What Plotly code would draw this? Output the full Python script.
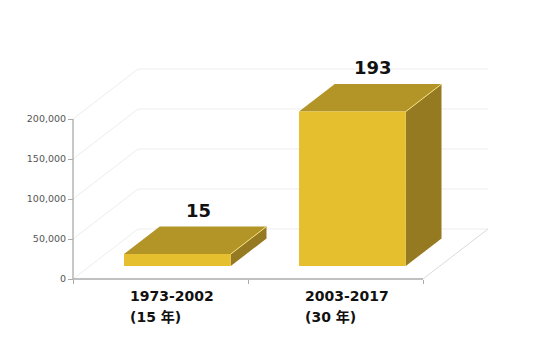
import plotly.graph_objects as go

# ---- data ----
categories = ["1973-2002", "2003-2017"]
period_labels = ["(15 年)", "(30 年)"]
values = [15000, 193000]
value_labels = ["15", "193"]
y_ticks = [0, 50000, 100000, 150000, 200000]
y_tick_text = ["0", "50,000", "100,000", "150,000", "200,000"]

# ---- geometry / style ----
W, H = 544, 354
X0PX, Y0PX = 73, 279
PX_PER_X = 175.0
UNITS_PER_PX = 1250.0
x_range = [-X0PX / PX_PER_X, (W - X0PX) / PX_PER_X]
y_range = [-(H - Y0PX) * UNITS_PER_PX, Y0PX * UNITS_PER_PX]

DX, DY = 0.3714, 62500.0      # full depth of the floor
F0, F1 = 0.26, 0.81           # bar front / back depth fraction
BW = 0.61                     # bar width (category units)

FRONT = "#E6BF2E"
TOP = "#B39426"
SIDE = "#967A22"
GRID = "#EDEDED"
AXIS = "#ABABAB"
FONT = "DejaVu Sans, Noto Sans CJK SC, sans-serif"

n = len(categories)
fig = go.Figure()


def poly(xs, ys, fill, line_color=None, width=0):
    fig.add_trace(go.Scatter(
        x=xs + [xs[0]], y=ys + [ys[0]], mode="lines", fill="toself",
        fillcolor=fill, line=dict(color=line_color or fill, width=width),
        hoverinfo="skip", showlegend=False))


def seg(xs, ys, color, width=1):
    fig.add_trace(go.Scatter(x=xs, y=ys, mode="lines",
                             line=dict(color=color, width=width),
                             hoverinfo="skip", showlegend=False))


# back wall gridlines and left wall diagonals
for t in y_ticks:
    seg([DX, n + DX], [t + DY, t + DY], GRID, 1)
    seg([0, DX], [t, t + DY], GRID, 1)
# right floor edge
seg([n, n + DX], [0, DY], "#DADADA", 1)

# bars
for i, v in enumerate(values):
    c = i + 0.5
    xl = c - BW / 2 + F0 * DX
    xr = c + BW / 2 + F0 * DX
    yb = F0 * DY
    yt = yb + v
    bdx = (F1 - F0) * DX
    bdy = (F1 - F0) * DY
    poly([xr, xr, xr + bdx, xr + bdx], [yb, yt, yt + bdy, yb + bdy], SIDE)
    poly([xl, xr, xr + bdx, xl + bdx], [yt, yt, yt + bdy, yt + bdy], TOP)
    poly([xl, xr, xr, xl], [yb, yb, yt, yt], FRONT)
    seg([xr, xr + bdx], [yt, yt + bdy], "#F3DE85", 1)

# axis lines
seg([0, 0], [0, y_ticks[-1]], AXIS, 1.3)
seg([0, n], [0, 0], AXIS, 1.3)

annotations = []
for i in range(n):
    annotations.append(dict(
        x=i + 0.5 + F0 * DX + 0.12, y=values[i] + F1 * DY, xref="x", yref="y",
        text="<b>%s</b>" % value_labels[i], showarrow=False,
        xanchor="center", yanchor="bottom", yshift=4,
        font=dict(family=FONT, size=18, color="#111111")))
    lx = i + 0.5 - BW / 2 + F0 * DX + 0.025
    annotations.append(dict(
        x=lx, y=0, xref="x", yref="y", text="<b>%s</b>" % categories[i],
        showarrow=False, xanchor="left", yanchor="middle", yshift=-17,
        font=dict(family=FONT, size=14, color="#111111")))
    annotations.append(dict(
        x=lx, y=0, xref="x", yref="y", text="<b>%s</b>" % period_labels[i],
        showarrow=False, xanchor="left", yanchor="middle", yshift=-38,
        font=dict(family=FONT, size=14, color="#111111")))

fig.update_layout(
    width=W, height=H,
    margin=dict(l=0, r=0, t=0, b=0),
    paper_bgcolor="white", plot_bgcolor="white",
    hovermode=False,
    xaxis=dict(range=x_range, domain=[0, 1], showgrid=False, zeroline=False,
               showline=False, showticklabels=False,
               tickvals=list(range(n + 1)), ticks="outside", ticklen=4,
               tickcolor=AXIS, tickwidth=1.3,
               anchor="free", position=(H - Y0PX) / H, automargin=False),
    yaxis=dict(range=y_range, domain=[0, 1], showgrid=False, zeroline=False,
               showline=False, tickvals=y_ticks, ticktext=y_tick_text,
               ticks="outside", ticklen=5, tickcolor=AXIS, tickwidth=1.3,
               tickfont=dict(family=FONT, size=9.5, color="#555555"),
               anchor="free", position=X0PX / W, automargin=False),
    annotations=annotations,
)

fig.write_html("out.html")
